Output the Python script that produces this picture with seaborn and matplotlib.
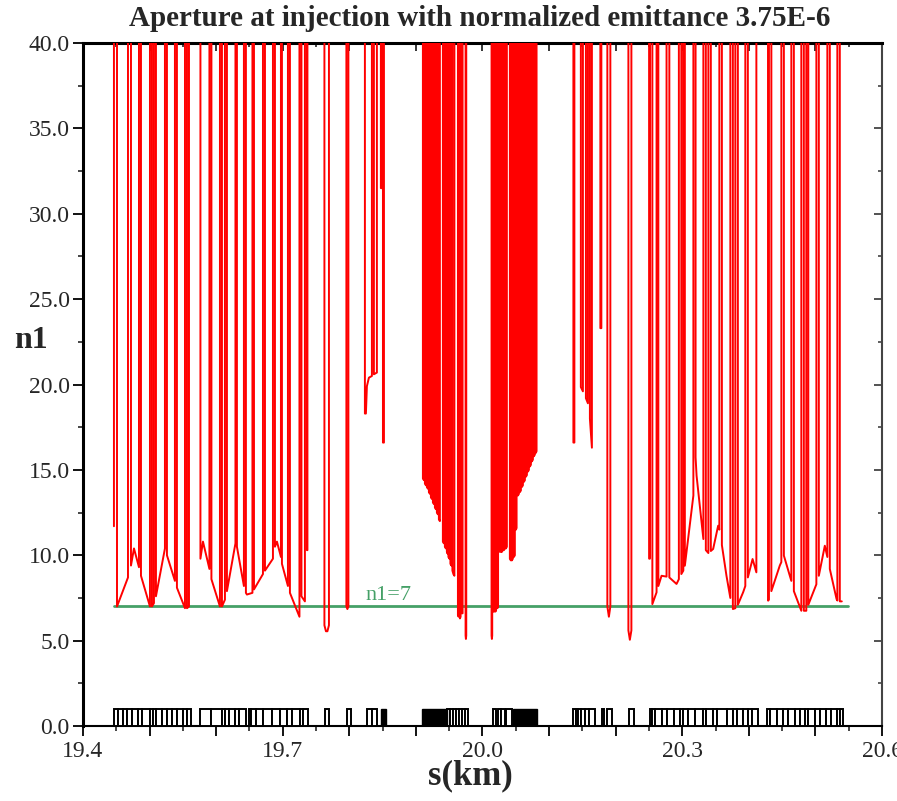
import numpy as np
import pandas as pd
import matplotlib
matplotlib.use("Agg")
import matplotlib.pyplot as plt
import seaborn as sns
from matplotlib.ticker import FixedLocator, MultipleLocator, FuncFormatter

# ---------------- data (s in km, n1) ----------------
# low-aperture segments of the n1 curve; between consecutive segments n1 is off-scale (> 40)
seg_s = [
    [19.4465], [19.4511, 19.4676], [19.4721, 19.4766, 19.4841], [19.4871, 19.5006],
    [19.5036, 19.5066], [19.5096, 19.5231], [19.5261, 19.5381], [19.5411, 19.5532],
    [19.5562, 19.5592], [19.5764, 19.5802, 19.5899], [19.5929, 19.6057], [19.6087, 19.6132],
    [19.6162, 19.6290], [19.6312, 19.6417], [19.6447, 19.6462, 19.6545], [19.6568, 19.6703],
    [19.6733, 19.6853], [19.6883, 19.6913, 19.6973], [19.6988, 19.7078], [19.7108, 19.7251],
    [19.7281, 19.7333], [19.7363, 19.7371], [19.7626, 19.7649, 19.7671, 19.7694],
    [19.7956, 19.7971, 19.7986], [19.8234, 19.8249, 19.8264, 19.8294, 19.8339],
    [19.8369, 19.8414], [19.8474, 19.8489], [19.8505, 19.8520],
    # insertion region, left block
    [19.9105, 19.9120], [19.9135, 19.9150], [19.9165, 19.9180], [19.9195, 19.9210],
    [19.9225, 19.9240], [19.9255, 19.9270], [19.9285, 19.9300], [19.9315, 19.9330],
    [19.9345, 19.9360], [19.9405, 19.9420], [19.9435, 19.9450], [19.9465, 19.9475],
    [19.9488, 19.9503], [19.9518, 19.9533], [19.9548, 19.9563, 19.9578],
    [19.9631, 19.9641], [19.9661, 19.9671], [19.9691, 19.9701], [19.9746, 19.9751, 19.9756],
    # insertion region, right block
    [20.0136, 20.0141, 20.0146], [20.0164, 20.0174], [20.0194, 20.0204], [20.0224, 20.0234],
    [20.0261, 20.0276], [20.0291, 20.0306], [20.0321, 20.0336], [20.0351, 20.0366],
    [20.0411, 20.0426], [20.0441, 20.0456], [20.0471, 20.0486], [20.0502, 20.0512],
    [20.0532, 20.0547], [20.0562, 20.0577], [20.0592, 20.0607], [20.0622, 20.0637],
    [20.0652, 20.0667], [20.0682, 20.0697], [20.0712, 20.0727], [20.0742, 20.0757],
    [20.0772, 20.0787], [20.0802, 20.0812],
    # dispersion suppressor
    [20.1365, 20.1380], [20.1477, 20.1508], [20.1553, 20.1583], [20.1613, 20.1643],
    [20.1770, 20.1785], [20.1875, 20.1898, 20.1920], [20.2191, 20.2213, 20.2236],
    # right arc
    [20.2503, 20.2514], [20.2551, 20.2614], [20.2641, 20.2689, 20.2764],
    [20.2806, 20.2914, 20.2949], [20.2986, 20.3016], [20.3039, 20.3167],
    [20.3200, 20.3215, 20.3317], [20.3354, 20.3392], [20.3429, 20.3464, 20.3539, 20.3557],
    [20.3595, 20.3664, 20.3722], [20.3760, 20.3797], [20.3835, 20.3914, 20.3947],
    [20.3985, 20.4056, 20.4113], [20.4290, 20.4300], [20.4338, 20.4465, 20.4488],
    [20.4526, 20.4616, 20.4638], [20.4676, 20.4788], [20.4826, 20.4863],
    [20.4893, 20.5014], [20.5051, 20.5141, 20.5179], [20.5216, 20.5317, 20.5329],
    [20.5366, 20.5396],
]
seg_n1 = [
    [11.7], [7.0, 8.7], [9.4, 10.4, 9.3], [8.8, 7.0],
    [7.0, 7.2], [7.6, 10.4], [10.0, 8.5], [8.1, 6.9],
    [6.9, 7.0], [9.8, 10.8, 9.2], [8.6, 7.0], [7.0, 7.4],
    [7.9, 10.7], [10.5, 8.2], [7.8, 7.7, 7.8], [8.0, 8.9],
    [9.1, 9.8], [10.5, 10.8, 9.9], [9.5, 8.2], [7.8, 6.4],
    [7.6, 7.3], [10.3, 10.3], [5.9, 5.55, 5.55, 5.9],
    [7.0, 6.85, 7.0], [18.3, 18.3, 19.9, 20.4, 20.5],
    [20.6, 20.7], [31.5, 31.5], [16.6, 16.6],
    [14.5, 14.4], [14.2, 14.1], [14.0, 13.9], [13.7, 13.6],
    [13.4, 13.3], [13.1, 13.0], [12.8, 12.7], [12.5, 12.4],
    [12.1, 12.0], [10.8, 10.7], [10.5, 10.4], [10.2, 10.1],
    [9.9, 9.8], [9.5, 9.4], [9.1, 8.9, 8.8],
    [6.5, 6.4], [6.3, 6.4], [6.6, 6.6], [5.3, 5.1, 5.3],
    [5.3, 5.1, 5.3], [6.7, 6.7], [6.7, 6.8], [6.9, 7.0],
    [10.2, 10.2], [10.2, 10.3], [10.3, 10.4], [10.4, 10.5],
    [9.8, 9.7], [9.7, 9.8], [9.9, 10.0], [11.5, 11.6],
    [13.5, 13.6], [13.7, 13.8], [14.0, 14.1], [14.3, 14.4],
    [14.6, 14.7], [14.9, 15.0], [15.2, 15.3], [15.5, 15.6],
    [15.8, 15.9], [16.0, 16.1],
    [16.6, 16.6], [19.85, 19.6], [19.2, 18.9], [18.0, 16.3],
    [23.3, 23.3], [7.0, 6.4, 7.0], [5.6, 5.05, 5.6],
    [9.8, 9.8], [7.14, 7.83], [8.2, 8.8, 8.75],
    [8.7, 8.32, 8.6], [8.9, 9.1], [9.39, 13.5],
    [15.74, 14.66, 10.95], [10.3, 10.13], [10.25, 10.37, 11.73, 11.5],
    [10.6, 8.8, 7.5], [6.85, 6.9], [7.1, 7.83, 8.2],
    [8.7, 9.78, 9.0], [7.34, 7.4], [7.9, 9.4, 9.6],
    [9.98, 8.8, 8.5], [7.9, 6.75], [6.75, 6.75],
    [7.1, 8.3], [8.8, 10.56, 9.9], [9.2, 7.44, 7.35],
    [7.3, 7.3],
]
OFF_SCALE = 1000.0   # aperture in drifts, far above the plotted range

ref_s = [19.4465, 20.549]
ref_n1 = [7.0, 7.0]

# magnet layout (outlined boxes from s0 to s1, height 1)
chain_edges = [
    [19.4473, 19.4526, 19.4601, 19.4668, 19.4743, 19.4826, 19.4893, 19.5006, 19.5051,
     19.5096, 19.5194, 19.5269, 19.5344, 19.5411, 19.5502, 19.5562, 19.5622],
    [19.5757, 19.5922, 19.6087, 19.6132, 19.6192, 19.6282, 19.6342, 19.6447],
    [19.6492, 19.6523, 19.6598, 19.6703, 19.6838, 19.6958, 19.7063, 19.7138, 19.7258,
     19.7303, 19.7378],
    [19.7634, 19.7694], [19.7964, 19.8024], [19.8264, 19.8339, 19.8414],
    [19.9465, 19.9511, 19.9556, 19.9601, 19.9646, 19.9691, 19.9736, 19.9781],
    [20.0156, 20.0201], [20.0231, 20.0284, 20.0336], [20.0351, 20.0441],
    [20.1357, 20.1402, 20.1432, 20.1477, 20.1538, 20.1598, 20.1688],
    [20.1793, 20.1823], [20.1868, 20.1943], [20.2198, 20.2273],
    [20.2514, 20.2539, 20.2589, 20.2689, 20.2764, 20.2874, 20.2964, 20.3014, 20.3089,
     20.3189, 20.3305, 20.3354, 20.3464, 20.3515, 20.3665, 20.3764, 20.3815, 20.3914,
     20.3980, 20.4040, 20.4140],
    [20.4275, 20.4315, 20.4416, 20.4515, 20.4590, 20.4691, 20.4766, 20.4841, 20.4890,
     20.4991, 20.5066, 20.5166, 20.5241, 20.5317, 20.5366, 20.5416],
]
solid_s0 = [19.8474, 19.9090, 20.0456]
solid_s1 = [19.8550, 19.9465, 20.0817]

x_tick_labels = ["19.4", "19.7", "20.0", "20.3", "20.6"]

# ---------------- build line ----------------
xs, ys = [], []
for i, (ss, nn) in enumerate(zip(seg_s, seg_n1)):
    if i > 0:
        xs.append(ss[0]); ys.append(OFF_SCALE)
    xs.extend(ss); ys.extend(nn)
    if i < len(seg_s) - 1:
        xs.append(ss[-1]); ys.append(OFF_SCALE)
df = pd.DataFrame({"s": xs, "n1": ys})

# ---------------- figure ----------------
sns.set_theme(style="white")
plt.rcParams["font.family"] = ["Liberation Serif", "DejaVu Serif"]
plt.rcParams["axes.linewidth"] = 1.4

fig = plt.figure(figsize=(8.97, 8.01), dpi=100)
ax = fig.add_axes([0.0925, 0.0936, 0.8908, 0.8527])

sns.lineplot(data=df, x="s", y="n1", sort=False, estimator=None, color="#ff0000",
             lw=1.4, ax=ax, zorder=3)
sns.lineplot(x=ref_s, y=ref_n1, color="#45a067", lw=2.0, ax=ax, zorder=2)
ax.text(19.824, 7.1, "n1=7", color="#45a067", fontsize=16, ha="left", va="bottom")

for edges in chain_edges:
    s0 = np.array(edges[:-1]); s1 = np.array(edges[1:])
    ax.bar(s0, 1.0, width=s1 - s0, align="edge", facecolor="white",
           edgecolor="black", linewidth=1.4, zorder=4)
ax.bar(np.array(solid_s0), 1.0, width=np.array(solid_s1) - np.array(solid_s0),
       align="edge", facecolor="black", edgecolor="black", linewidth=1.0, zorder=4)

ax.set_xlim(19.4, 20.6)
ax.set_ylim(0, 40)
ax.set_xlabel(""); ax.set_ylabel("")

major_x = [19.4, 19.5, 19.6, 19.7, 19.8, 19.9, 20.0, 20.1, 20.2, 20.3, 20.4, 20.5, 20.6]
lab_map = {round(float(v), 1): l for v, l in zip([19.4, 19.7, 20.0, 20.3, 20.6], x_tick_labels)}
ax.xaxis.set_major_locator(FixedLocator(major_x))
ax.xaxis.set_major_formatter(FuncFormatter(lambda v, p: lab_map.get(round(v, 1), "")))
ax.xaxis.set_minor_locator(MultipleLocator(0.05))
ax.yaxis.set_major_locator(MultipleLocator(5))
ax.yaxis.set_minor_locator(MultipleLocator(2.5))
ax.yaxis.set_major_formatter(FuncFormatter(lambda v, p: f"{v:.1f}"))

ax.tick_params(axis="both", which="major", direction="out", length=7.5, width=1.3,
               labelsize=17, color="black", bottom=True, left=True, top=False, right=False)
ax.tick_params(axis="both", which="minor", direction="out", length=3.5, width=1.2,
               bottom=True, left=True, top=False, right=False)
ax.tick_params(axis="x", which="major", pad=3)
ax.tick_params(axis="y", which="major", pad=2)

for sp in ["top", "left"]:
    ax.spines[sp].set_linewidth(2.2)
    ax.spines[sp].set_color("black")
ax.spines["bottom"].set_linewidth(1.5)
ax.spines["bottom"].set_color("black")
ax.spines["right"].set_linewidth(1.5)
ax.spines["right"].set_color("#444444")

secx = ax.secondary_xaxis("top")
secx.xaxis.set_major_locator(FixedLocator(major_x))
secx.xaxis.set_minor_locator(MultipleLocator(0.05))
secx.tick_params(which="major", direction="in", length=6, width=1.3, labeltop=False)
secx.tick_params(which="minor", direction="in", length=3, width=1.2)
secx.spines["top"].set_visible(False)

secy = ax.secondary_yaxis("right")
secy.yaxis.set_major_locator(MultipleLocator(5))
secy.yaxis.set_minor_locator(MultipleLocator(2.5))
secy.tick_params(which="major", direction="in", length=6, width=1.3, labelright=False,
                 color="#444444")
secy.tick_params(which="minor", direction="in", length=3, width=1.2, color="#444444")
secy.spines["right"].set_visible(False)

fig.text(0.535, 0.9775, "Aperture at injection with normalized emittance 3.75E-6",
         ha="center", va="center", fontsize=21, fontweight="bold")
fig.text(0.034, 0.5755, "n1", ha="center", va="center", fontsize=23, fontweight="bold")
fig.text(0.524, 0.031, "s(km)", ha="center", va="center", fontsize=25, fontweight="bold")

fig.savefig("out.png", dpi=100, facecolor="white")
